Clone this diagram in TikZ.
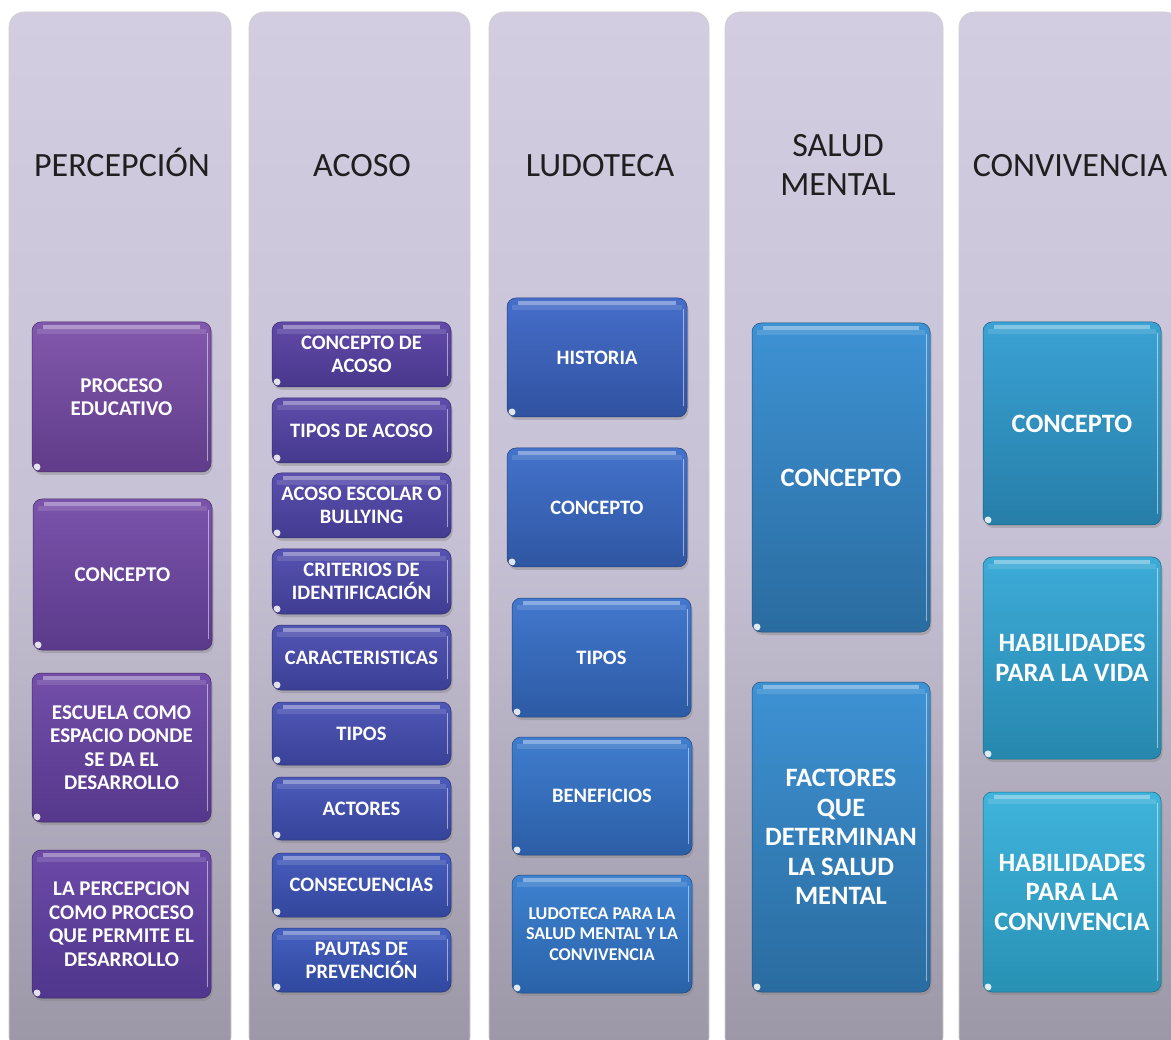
\documentclass[tikz,border=0pt]{standalone}
\usepackage{fontspec}
\setmainfont{Carlito}
\usetikzlibrary{shadows}

\definecolor{panT}{RGB}{210,205,224}
\definecolor{panM}{RGB}{198,193,212}
\definecolor{panB}{RGB}{156,151,166}
% column 1 (purple)
\definecolor{aTs}{RGB}{130,88,172}\definecolor{aBs}{RGB}{96,60,138}
\definecolor{aTe}{RGB}{108,74,168}\definecolor{aBe}{RGB}{80,54,140}
% column 2 (violet -> blue)
\definecolor{bTs}{RGB}{98,74,168}\definecolor{bBs}{RGB}{72,55,140}
\definecolor{bTe}{RGB}{68,96,192}\definecolor{bBe}{RGB}{48,72,158}
% column 3 (blue)
\definecolor{cTs}{RGB}{70,110,202}\definecolor{cBs}{RGB}{48,82,160}
\definecolor{cTe}{RGB}{62,130,208}\definecolor{cBe}{RGB}{42,98,168}
% column 4
\definecolor{dT}{RGB}{62,146,212}\definecolor{dB}{RGB}{42,108,160}
% column 5
\definecolor{eTs}{RGB}{58,162,212}\definecolor{eBs}{RGB}{38,126,168}
\definecolor{eTe}{RGB}{64,180,220}\definecolor{eBe}{RGB}{40,145,180}

\tikzset{
  panel/.style={rounded corners=15pt, top color=panT, bottom color=panB, middle color=panM,
     draw=black!18, line width=0.6pt, inner sep=0pt},
  ttl/.style={font=\fontsize{34}{39}\selectfont, text=black!88, anchor=base, align=center, inner sep=0pt},
  gbox/.style={rounded corners=9pt, text=white, align=center, inner sep=0pt,
     drop shadow={opacity=0.38, shadow xshift=1.5pt, shadow yshift=-3pt},
     path picture={
       \fill[sharp corners,white,opacity=0.38] ([xshift=11pt,yshift=-3pt]path picture bounding box.north west)
          rectangle ([xshift=-11pt,yshift=-7pt]path picture bounding box.north east);
       \fill[sharp corners,white,opacity=0.12] ([xshift=5pt,yshift=-7pt]path picture bounding box.north west)
          rectangle ([xshift=-5pt,yshift=-12pt]path picture bounding box.north east);
       \draw[sharp corners,white,opacity=0.5,line width=1.6pt] ([xshift=-3.5pt,yshift=-11pt]path picture bounding box.north east)
          -- ([xshift=-3.5pt,yshift=11pt]path picture bounding box.south east);
       \fill[white,opacity=0.85] ([xshift=5pt,yshift=5pt]path picture bounding box.south west) circle (3.5pt);
     }},
  ca/.style={top color=aTs!#1!aTe, bottom color=aBs!#1!aBe, draw=aBs!#1!aBe!75!black, line width=0.5pt},
  cb/.style={top color=bTs!#1!bTe, bottom color=bBs!#1!bBe, draw=bBs!#1!bBe!75!black, line width=0.5pt},
  cc/.style={top color=cTs!#1!cTe, bottom color=cBs!#1!cBe, draw=cBs!#1!cBe!75!black, line width=0.5pt},
  cd/.style={top color=dT, bottom color=dB, draw=dB!75!black, line width=0.5pt},
  ce/.style={top color=eTs!#1!eTe, bottom color=eBs!#1!eBe, draw=eBs!#1!eBe!75!black, line width=0.5pt},
  fa/.style={font=\bfseries\fontsize{21}{23.5}\selectfont},
  fb/.style={font=\bfseries\fontsize{20.5}{22.8}\selectfont},
  fs/.style={font=\bfseries\fontsize{18}{20.6}\selectfont},
  fl/.style={font=\bfseries\fontsize{26.5}{29.5}\selectfont},
}

\newcommand\gb[7]{%
  \node[gbox,#6,minimum width={(#4-#2)*1pt},minimum height={(#5-#3)*1pt}]
    (#1) at ({(#2+#4)/2},{(#3+#5)/2}) {#7};}
\newcommand\pnl[3]{%
  \node[panel,minimum width={(#3-#2)*1pt},minimum height=1040pt] (#1) at ({(#2+#3)/2},532) {};}

\begin{document}
\begin{tikzpicture}[x=1pt,y=-1pt]
\useasboundingbox (0,0) rectangle (1171,1040);
\clip (0,0) rectangle (1171,1040);
\fill[white] (0,0) rectangle (1171,1040);

% panels
\pnl{pa}{9}{231}
\pnl{pb}{249}{470}
\pnl{pc}{489}{709}
\pnl{pd}{725}{943}
\pnl{pe}{959}{1180}

% titles
\node[ttl] (ta) at (122,177) {PERCEPCIÓN};
\node[ttl] (tb) at (362,177) {ACOSO};
\node[ttl] (tc) at (600,177) {LUDOTECA};
\node[ttl] (td) at (838,196) {SALUD\\MENTAL};
\node[ttl] (te) at (1070,177) {CONVIVENCIA};

% column 1
\gb{a1}{32}{322}{211}{472}{ca=100,fa}{PROCESO\\EDUCATIVO}
\gb{a2}{33}{499}{212}{650}{ca=67,fa}{CONCEPTO}
\gb{a3}{32}{673}{211}{822}{ca=33,fa}{ESCUELA COMO\\ESPACIO DONDE\\SE DA EL\\DESARROLLO}
\gb{a4}{32}{850}{211}{998}{ca=0,fa}{LA PERCEPCION\\COMO PROCESO\\QUE PERMITE EL\\DESARROLLO}

% column 2
\gb{b1}{272}{322}{451}{387}{cb=100,fb}{CONCEPTO DE\\ACOSO}
\gb{b2}{272}{398}{451}{463}{cb=88,fb}{TIPOS DE ACOSO}
\gb{b3}{272}{473}{451}{538}{cb=75,fb}{ACOSO ESCOLAR O\\BULLYING}
\gb{b4}{272}{549}{451}{614}{cb=63,fb}{CRITERIOS DE\\IDENTIFICACIÓN}
\gb{b5}{272}{625}{451}{690}{cb=50,fb}{CARACTERISTICAS}
\gb{b6}{272}{702}{451}{765}{cb=38,fb}{TIPOS}
\gb{b7}{272}{777}{451}{840}{cb=25,fb}{ACTORES}
\gb{b8}{272}{853}{451}{917}{cb=12,fb}{CONSECUENCIAS}
\gb{b9}{272}{928}{451}{992}{cb=0,fb}{PAUTAS DE\\PREVENCIÓN}

% column 3
\gb{c1}{507}{298}{687}{417}{cc=100,fb}{HISTORIA}
\gb{c2}{507}{448}{687}{567}{cc=75,fb}{CONCEPTO}
\gb{c3}{512}{598}{691}{717}{cc=50,fb}{TIPOS}
\gb{c4}{512}{737}{692}{855}{cc=25,fb}{BENEFICIOS}
\gb{c5}{512}{875}{692}{993}{cc=0,fs}{LUDOTECA PARA LA\\SALUD MENTAL Y LA\\CONVIVENCIA}

% column 4
\gb{d1}{752}{323}{930}{632}{cd,fl}{CONCEPTO}
\gb{d2}{752}{682}{930}{992}{cd,fl}{FACTORES\\QUE\\DETERMINAN\\LA SALUD\\MENTAL}

% column 5
\gb{e1}{983}{322}{1161}{525}{ce=100,fl}{CONCEPTO}
\gb{e2}{983}{557}{1161}{759}{ce=50,fl}{HABILIDADES\\PARA LA VIDA}
\gb{e3}{983}{792}{1161}{992}{ce=0,fl}{HABILIDADES\\PARA LA\\CONVIVENCIA}
\end{tikzpicture}
\end{document}
